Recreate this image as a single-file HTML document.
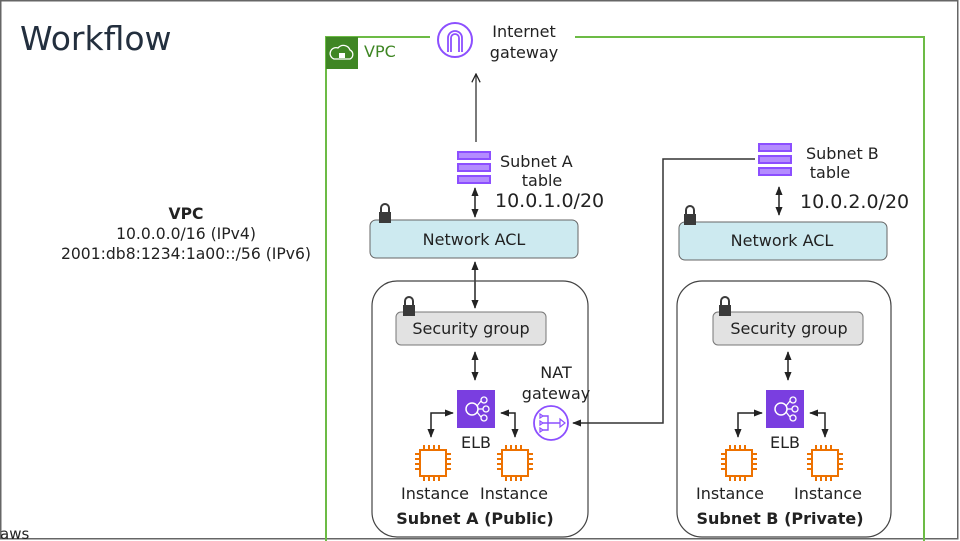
<!DOCTYPE html>
<html><head><meta charset="utf-8"><style>
html,body{margin:0;padding:0;background:#fff}
svg{display:block}
text{font-family:"DejaVu Sans","Liberation Sans",sans-serif;fill:#222}
</style></head><body>
<svg width="960" height="541" viewBox="0 0 960 541" xmlns="http://www.w3.org/2000/svg">
<defs>
<marker id="ah" viewBox="0 0 10 10" refX="9" refY="5" markerWidth="6" markerHeight="6" orient="auto-start-reverse"><path d="M0,1 L10,5 L0,9 z" fill="#222"/></marker>
<marker id="oa" viewBox="0 0 10 10" refX="9" refY="5" markerWidth="8" markerHeight="8" orient="auto"><path d="M1,1 L9,5 L1,9" fill="none" stroke="#222" stroke-width="1.2"/></marker>
<g id="lock"><rect x="-6" y="0" width="12" height="11" fill="#3a3a3a"/><path d="M-4,0 v-4 a4,4 0 0 1 8,0 v4" fill="none" stroke="#3a3a3a" stroke-width="2"/></g>
<g id="rt"><rect x="0" y="0" width="34" height="9" fill="#8c4fff"/><rect x="2" y="2" width="30" height="5" fill="#fff" opacity=".35"/><rect x="0" y="12" width="34" height="9" fill="#8c4fff"/><rect x="2" y="14" width="30" height="5" fill="#fff" opacity=".35"/><rect x="0" y="24" width="34" height="9" fill="#8c4fff"/><rect x="2" y="26" width="30" height="5" fill="#fff" opacity=".35"/></g>
<g id="elb"><rect x="0" y="0" width="38" height="38" fill="#7a3ee0"/><circle cx="15" cy="19" r="6" fill="none" stroke="#fff" stroke-width="1.5"/><circle cx="27" cy="10" r="3" fill="none" stroke="#fff" stroke-width="1.3"/><circle cx="29" cy="19" r="3" fill="none" stroke="#fff" stroke-width="1.3"/><circle cx="27" cy="28" r="3" fill="none" stroke="#fff" stroke-width="1.3"/><path d="M20,16 L24,11 M21,19 H26 M20,22 L24,27" stroke="#fff" stroke-width="1.3"/></g>
<g id="inst" fill="none" stroke="#ed7100" stroke-width="2"><rect x="-13" y="-13" width="26" height="26"/><path d="M-9,-13v-5M-4,-13v-5M1,-13v-5M6,-13v-5M-9,13v5M-4,13v5M1,13v5M6,13v5M-13,-9h-5M-13,-4h-5M-13,1h-5M-13,6h-5M13,-9h5M13,-4h5M13,1h5M13,6h5"/></g>
</defs>
<rect x="0.75" y="0.75" width="957" height="538" fill="none" stroke="#666" stroke-width="1.5"/>
<text x="20" y="50" font-size="33" style="fill:#232f3e">Workflow</text>
<text x="0" y="539" font-size="15">aws</text>
<text x="186" y="219" font-size="15.6" font-weight="bold" text-anchor="middle">VPC</text>
<text x="186" y="239" font-size="15.6" text-anchor="middle">10.0.0.0/16 (IPv4)</text>
<text x="186" y="259" font-size="15.6" text-anchor="middle">2001:db8:1234:1a00::/56 (IPv6)</text>
<path d="M430,37 H326 V541 M575,37 H924 V541" fill="none" stroke="#6cbb45" stroke-width="2"/>
<rect x="326" y="37" width="32" height="32" fill="#3f8624"/>
<path d="M334,59 h16 a5,5 0 0 0 0,-9 a7,7 0 0 0 -12,-2 a5,5 0 0 0 -4,11z" fill="none" stroke="#fff" stroke-width="1.3"/>
<rect x="339" y="53" width="6" height="5" fill="#fff"/>
<text x="364" y="57" font-size="16" style="fill:#3f8624">VPC</text>
<circle cx="455" cy="40" r="17" fill="#fff" stroke="#8c4fff" stroke-width="2"/>
<path d="M448,52 V38 a7,7 0 0 1 14,0 V52 M451,52 V38 a4,4 0 0 1 8,0 V52" fill="none" stroke="#8c4fff" stroke-width="1.8"/>
<text x="524" y="37" font-size="16" text-anchor="middle">Internet</text>
<text x="524" y="58" font-size="16" text-anchor="middle">gateway</text>
<line x1="476" y1="142" x2="476" y2="74" stroke="#333" stroke-width="1.3" marker-end="url(#oa)"/>
<use href="#rt" x="457" y="151"/>
<text x="500" y="167" font-size="16">Subnet A</text>
<text x="542" y="186" font-size="16" text-anchor="middle">table</text>
<text x="495" y="207" font-size="19">10.0.1.0/20</text>
<line x1="475" y1="188" x2="475" y2="217" stroke="#222" stroke-width="1.5" marker-start="url(#ah)" marker-end="url(#ah)"/>
<rect x="370" y="220" width="208" height="38" rx="6" fill="#cdeaf0" stroke="#666" stroke-width="1"/>
<use href="#lock" x="385" y="212"/>
<text x="474" y="245" font-size="16" text-anchor="middle">Network ACL</text>
<line x1="475" y1="262" x2="475" y2="308" stroke="#222" stroke-width="1.5" marker-start="url(#ah)" marker-end="url(#ah)"/>
<rect x="372" y="281" width="216" height="256" rx="25" fill="none" stroke="#444" stroke-width="1.2"/>
<rect x="396" y="312" width="150" height="33" rx="5" fill="#e2e2e2" stroke="#777"/>
<use href="#lock" x="409" y="305"/>
<text x="471" y="334" font-size="16" text-anchor="middle">Security group</text>
<line x1="475" y1="352" x2="475" y2="380" stroke="#222" stroke-width="1.5" marker-start="url(#ah)" marker-end="url(#ah)"/>
<use href="#elb" x="457" y="390"/>
<text x="476" y="448" font-size="16" text-anchor="middle">ELB</text>
<path d="M431,437 V413 H453" fill="none" stroke="#222" stroke-width="1.5" marker-start="url(#ah)" marker-end="url(#ah)"/>
<path d="M515,437 V413 H501" fill="none" stroke="#222" stroke-width="1.5" marker-start="url(#ah)" marker-end="url(#ah)"/>
<use href="#inst" x="433" y="463"/>
<use href="#inst" x="515" y="463"/>
<text x="435" y="499" font-size="16" text-anchor="middle">Instance</text>
<text x="514" y="499" font-size="16" text-anchor="middle">Instance</text>
<text x="475" y="524" font-size="16" font-weight="bold" text-anchor="middle">Subnet A (Public)</text>
<text x="556" y="378" font-size="16" text-anchor="middle">NAT</text>
<text x="556" y="399" font-size="16" text-anchor="middle">gateway</text>
<circle cx="551" cy="423" r="17" fill="#fff" stroke="#8c4fff" stroke-width="1.8"/>
<path d="M543,416 h5 v14 h-5 M548,423 h12 M543,423 h5" fill="none" stroke="#8c4fff" stroke-width="1.4"/>
<path d="M560,419 l5,4 l-5,4z M540,414 l3,2 l-3,2z M540,421 l3,2 l-3,2z M540,428 l3,2 l-3,2z" fill="none" stroke="#8c4fff" stroke-width="1.2"/>
<path d="M755,159 H663 V423 H573" fill="none" stroke="#333" stroke-width="1.5" marker-end="url(#ah)"/>
<use href="#rt" x="758" y="143"/>
<text x="806" y="159" font-size="16">Subnet B</text>
<text x="830" y="178" font-size="16" text-anchor="middle">table</text>
<text x="800" y="208" font-size="19">10.0.2.0/20</text>
<line x1="779" y1="187" x2="779" y2="215" stroke="#222" stroke-width="1.5" marker-start="url(#ah)" marker-end="url(#ah)"/>
<rect x="679" y="222" width="208" height="38" rx="6" fill="#cdeaf0" stroke="#666" stroke-width="1"/>
<use href="#lock" x="690" y="214"/>
<text x="782" y="246" font-size="16" text-anchor="middle">Network ACL</text>
<rect x="677" y="281" width="214" height="256" rx="25" fill="none" stroke="#444" stroke-width="1.2"/>
<rect x="713" y="312" width="150" height="33" rx="5" fill="#e2e2e2" stroke="#777"/>
<use href="#lock" x="725" y="305"/>
<text x="789" y="334" font-size="16" text-anchor="middle">Security group</text>
<line x1="788" y1="352" x2="788" y2="380" stroke="#222" stroke-width="1.5" marker-start="url(#ah)" marker-end="url(#ah)"/>
<use href="#elb" x="766" y="390"/>
<text x="785" y="448" font-size="16" text-anchor="middle">ELB</text>
<path d="M738,437 V413 H762" fill="none" stroke="#222" stroke-width="1.5" marker-start="url(#ah)" marker-end="url(#ah)"/>
<path d="M825,437 V413 H810" fill="none" stroke="#222" stroke-width="1.5" marker-start="url(#ah)" marker-end="url(#ah)"/>
<use href="#inst" x="739" y="463"/>
<use href="#inst" x="825" y="463"/>
<text x="730" y="499" font-size="16" text-anchor="middle">Instance</text>
<text x="828" y="499" font-size="16" text-anchor="middle">Instance</text>
<text x="780" y="524" font-size="16" font-weight="bold" text-anchor="middle">Subnet B (Private)</text>
</svg>
</body></html>
